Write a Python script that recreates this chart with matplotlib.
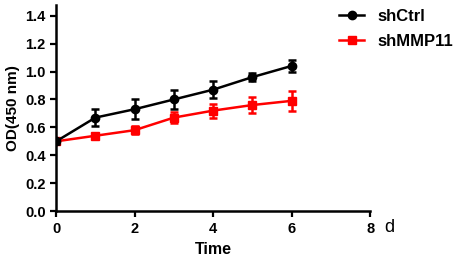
import matplotlib
matplotlib.use("Agg")
import matplotlib.pyplot as plt
from matplotlib.lines import Line2D

days = [0, 1, 2, 3, 4, 5, 6]
shctrl = [0.50, 0.67, 0.73, 0.80, 0.87, 0.96, 1.04]
shctrl_err = [0.02, 0.06, 0.07, 0.07, 0.06, 0.03, 0.04]
shmmp11 = [0.50, 0.54, 0.58, 0.67, 0.72, 0.76, 0.79]
shmmp11_err = [0.01, 0.01, 0.03, 0.04, 0.05, 0.06, 0.07]
xticks = [0, 2, 4, 6, 8]
yticks = [0.0, 0.2, 0.4, 0.6, 0.8, 1.0, 1.2, 1.4]

plt.rcParams['font.family'] = ['Liberation Sans', 'DejaVu Sans']
fig = plt.figure(figsize=(4.53, 2.60), dpi=100)
ax = fig.add_axes([0.124, 0.188, 0.693, 0.793])

ax.errorbar(days, shctrl, yerr=shctrl_err, color='black', marker='o', markersize=6,
            linewidth=1.8, elinewidth=1.8, capsize=3, capthick=1.8, zorder=3)
ax.errorbar(days, shmmp11, yerr=shmmp11_err, color='#ff0000', marker='s', markersize=6,
            linewidth=1.8, elinewidth=1.8, capsize=3, capthick=1.8, zorder=2)

ax.set_xlim(0, 8)
ax.set_ylim(0, 1.477)
ax.set_xticks(xticks)
ax.set_yticks(yticks)
ax.set_yticklabels([f"{v:.1f}" for v in yticks])
for s in ['top', 'right']:
    ax.spines[s].set_visible(False)
for s in ['left', 'bottom']:
    ax.spines[s].set_linewidth(1.8)
ax.tick_params(width=1.6, length=4, labelsize=10.5, direction='out')
for lab in ax.get_xticklabels() + ax.get_yticklabels():
    lab.set_fontweight('bold')
ax.set_xlabel('Time', fontsize=11.5, fontweight='bold', labelpad=5)
ax.set_ylabel('OD(450 nm)', fontsize=11, fontweight='bold', labelpad=4)
ax.text(1.045, -0.04, 'd', transform=ax.transAxes, fontsize=13, va='top', ha='left')

handles = [Line2D([], [], color='black', marker='o', markersize=6, linewidth=1.8),
           Line2D([], [], color='#ff0000', marker='s', markersize=6, linewidth=1.8)]
fig.legend(handles, ['shCtrl', 'shMMP11'], loc='upper left', bbox_to_anchor=(0.742, 0.98),
           frameon=False, prop={'weight': 'bold', 'size': 12}, handlelength=1.5,
           handletextpad=0.8, labelspacing=0.6, borderaxespad=0, borderpad=0.2)
fig.savefig('out.png', dpi=100)
